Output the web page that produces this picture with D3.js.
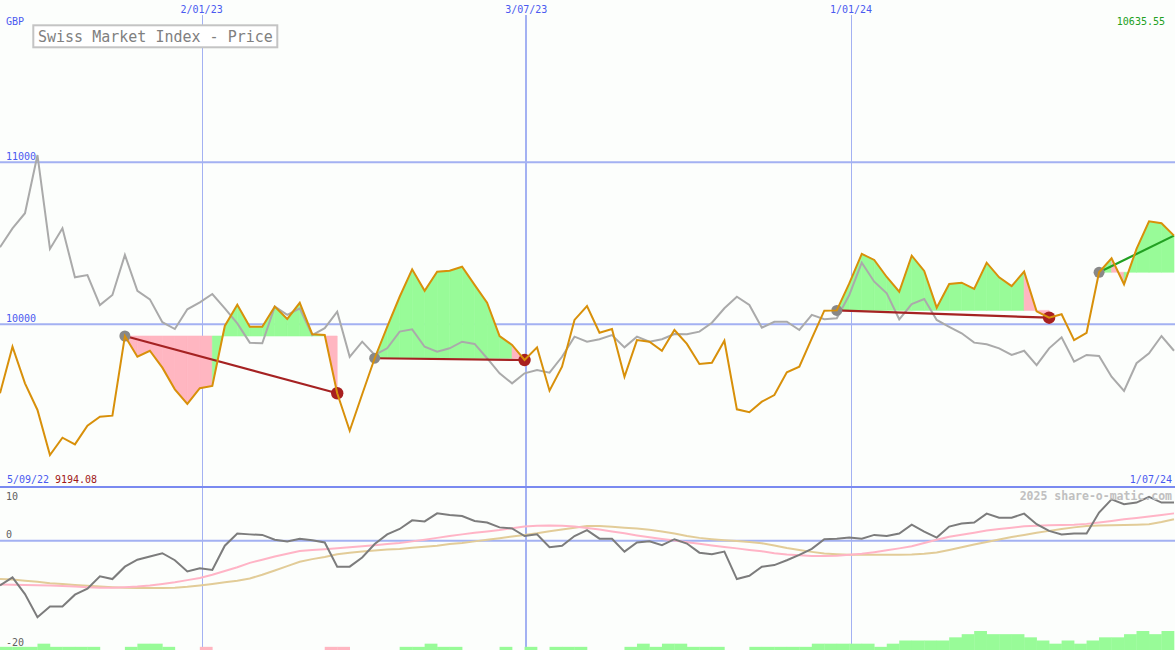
<!DOCTYPE html>
<html><head><meta charset="utf-8">
<script src="https://cdn.jsdelivr.net/npm/d3@7"></script>
<style>html,body{margin:0;padding:0;background:#fcfefc;} svg{display:block;}</style>
</head><body><svg id="c" width="1175" height="650"></svg>
<script>
// ---------- data ----------
const firstWeek = new Date(2022, 8, 11);
const lastWeek = new Date(2024, 5, 30);
const price = [
 9575, 9862, 9636, 9472, 9194.08, 9301, 9260, 9375, 9430, 9437,
 9928, 9800, 9837, 9733, 9599, 9509, 9606, 9620, 9990, 10121,
 9985, 9985, 10109, 10033, 10133, 9939, 9934, 9575, 9344, 9569,
 9791, 9985, 10170, 10339, 10207, 10325, 10331, 10355, 10243, 10133,
 9928, 9873, 9780, 9858, 9591, 9739, 10027, 10113, 9948, 9971,
 9677, 9903, 9893, 9837, 9965, 9879, 9755, 9763, 9899, 9476,
 9458, 9523, 9564, 9704, 9739, 9914, 10084, 10086, 10252, 10434,
 10397, 10292, 10201, 10423, 10329, 10103, 10249, 10257, 10218, 10380,
 10290, 10236, 10325, 10080, 10041, 10062, 9903, 9948, 10321, 10407,
 10247, 10465, 10635.55, 10623, 10547];
const compare = [
 10475, 10592, 10685, 11044, 10465, 10592, 10290, 10304, 10119, 10181,
 10428, 10207, 10154, 10013, 9971, 10093, 10136, 10187, 10099, 10006,
 9887, 9883, 10109, 10058, 10099, 9934, 9976, 10078, 9800, 9893,
 9811, 9852, 9955, 9969, 9862, 9831, 9852, 9893, 9879, 9791,
 9698, 9636, 9698, 9718, 9702, 9800, 9924, 9893, 9908, 9934,
 9858, 9924, 9893, 9908, 9940, 9939, 9955, 10010, 10099, 10170,
 10119, 9979, 10016, 10016, 9965, 10058, 10031, 10037, 10181, 10380,
 10263, 10191, 10031, 10125, 10156, 10027, 9985, 9945, 9887, 9877,
 9852, 9811, 9837, 9749, 9852, 9920, 9770, 9811, 9805, 9677,
 9589, 9760, 9821, 9928, 9837];
const osc = [
 -8.3, -6.8, -9.9, -14.2, -12.2, -12.2, -10, -8.9, -6.6, -7.1,
 -4.8, -3.5, -2.9, -2.3, -3.6, -5.7, -5.1, -5.4, -0.9, 1.35,
 1.2, 1.1, 0.2, -0.1, 0.4, 0.1, -0.3, -4.8, -4.8, -3.1,
 -0.6, 1.2, 2.2, 3.8, 3.6, 5.1, 4.8, 4.6, 3.7, 3.4,
 2.5, 2.3, 0.9, 1.2, -1.2, -0.9, 0.9, 2.0, 0.4, 0.4,
 -2.0, -0.3, -0.1, -0.8, 0.3, -0.5, -2.2, -2.5, -2.0, -7.1,
 -6.5, -4.8, -4.5, -3.6, -2.6, -1.5, 0.3, 0.4, 0.6, 0.4,
 1.1, 0.9, 1.35, 3.0, 1.7, 0.6, 2.65, 3.2, 3.4, 5.05,
 4.3, 4.3, 5.05, 3.1, 1.85, 1.2, 1.35, 1.35, 5.25, 7.7,
 6.8, 7.1, 8.15, 7.1, 7.1];
const oscFast = [
 -8.1, -8.15, -8.2, -8.25, -8.3, -8.4, -8.5, -8.6, -8.7, -8.7,
 -8.6, -8.5, -8.3, -8.0, -7.7, -7.3, -6.9, -6.3, -5.6, -4.9,
 -4.1, -3.5, -2.9, -2.4, -1.9, -1.7, -1.55, -1.4, -1.2, -1.0,
 -0.8, -0.6, -0.4, -0.1, 0.2, 0.55, 0.9, 1.2, 1.5, 1.75,
 2.0, 2.35, 2.65, 2.8, 2.85, 2.8, 2.65, 2.4, 2.1, 1.75,
 1.4, 1.0, 0.65, 0.35, 0.05, -0.25, -0.55, -0.85, -1.15, -1.4,
 -1.7, -1.95, -2.3, -2.55, -2.7, -2.8, -2.8, -2.75, -2.6, -2.4,
 -2.1, -1.75, -1.4, -1.0, -0.4, 0.2, 0.75, 1.15, 1.5, 1.9,
 2.2, 2.45, 2.7, 2.8, 2.9, 2.95, 3.0, 3.15, 3.4, 3.7,
 4.0, 4.25, 4.5, 4.8, 5.1];
const oscSlow = [
 -7.1, -7.2, -7.4, -7.6, -7.9, -8.0, -8.2, -8.35, -8.5, -8.6,
 -8.7, -8.75, -8.75, -8.75, -8.7, -8.55, -8.3, -8.0, -7.7, -7.4,
 -7.0, -6.3, -5.5, -4.7, -3.9, -3.4, -3.0, -2.5, -2.2, -2.0,
 -1.8, -1.6, -1.5, -1.3, -1.1, -0.9, -0.6, -0.4, -0.1, 0.2,
 0.5, 0.8, 1.1, 1.4, 1.8, 2.1, 2.45, 2.75, 2.75, 2.6,
 2.45, 2.3, 2.05, 1.75, 1.35, 0.9, 0.55, 0.3, 0.1, -0.05,
 -0.2, -0.45, -0.85, -1.35, -1.7, -2.05, -2.35, -2.5, -2.6, -2.6,
 -2.6, -2.6, -2.6, -2.55, -2.4, -2.15, -1.7, -1.2, -0.7, -0.2,
 0.25, 0.7, 1.1, 1.5, 1.85, 2.2, 2.5, 2.75, 2.85, 2.9,
 2.95, 3.0, 3.1, 3.5, 4.0];
const strengthBars = [
 1,1,1,2,1,1,1,1,0,0,
 1,2,2,1,0,0,-1,0,0,0,
 0,0,0,0,0,0,-1,-1,0,0,
 0,0,1,1,2,1,1,0,0,0,
 1,0,1,0,1,1,1,0,0,0,
 1,2,1,2,2,1,1,1,0,0,
 1,1,1,1,1,2,2,2,2,2,
 1,2,3,3,3,3,4,5,6,5,
 5,5,4,3,2,3,2,3,4,4,
 5,6,5,6];
const buyIdx = [10, 30, 67, 88];
const exitIdx = [27, 42, 84, 94];
const tradeOpen = [false, false, false, true];
const gridDates = [new Date(2023,0,2), new Date(2023,6,3), new Date(2024,0,1)];
const gridDateLabels = ["2/01/23", "3/07/23", "1/01/24"];
const gridDateWidths = [1, 2, 1];
const priceTicks = [10000, 11000];
const oscTicks = [10, 0, -20];
const titleText = "Swiss Market Index - Price";
const currency = "GBP";
const startLabel = "5/09/22", endLabel = "1/07/24";
const minLabel = "9194.08", maxLabel = "10635.55";

// ---------- scales ----------
const dates = d3.timeWeek.range(firstWeek, d3.timeDay.offset(lastWeek, 1));
const W = 1175, H = 650;
const x = d3.scaleTime().domain([firstWeek, lastWeek]).range([0, 1174]);
const yP = d3.scaleLinear().domain([9000, 12000]).range([486.5, 0]);
const yO = d3.scaleLinear().domain([-20, 10]).range([648.5, 487]);
const yB = d3.scaleLinear().domain([0, 6]).range([650, 631]);
const X = i => x(dates[i]);

const svg = d3.select("#c");
svg.append("rect").attr("width", W).attr("height", H).attr("fill", "#fcfefc");
const MONO = "'DejaVu Sans Mono', 'Liberation Mono', monospace";
const gridC = "#a3b1f2", blueTxt = "#4a5af0";

// gridlines
svg.selectAll(".hg").data(priceTicks).join("line")
  .attr("x1", 0).attr("x2", W).attr("y1", d => yP(d)).attr("y2", d => yP(d))
  .attr("stroke", gridC).attr("stroke-width", 2);
svg.append("line").attr("x1", 0).attr("x2", W).attr("y1", yO(0)).attr("y2", yO(0))
  .attr("stroke", gridC).attr("stroke-width", 2);
svg.selectAll(".vg").data(gridDates).join("line")
  .attr("x1", (d, i) => Math.round(x(d)) + (gridDateWidths[i] === 1 ? 0.5 : 0))
  .attr("x2", (d, i) => Math.round(x(d)) + (gridDateWidths[i] === 1 ? 0.5 : 0))
  .attr("y1", 15).attr("y2", H)
  .attr("stroke", gridC).attr("stroke-width", (d, i) => gridDateWidths[i]);
svg.append("line").attr("x1", 0).attr("x2", W).attr("y1", 487).attr("y2", 487)
  .attr("stroke", "#7a8af0").attr("stroke-width", 2);

// trade fills
const area = d3.area().x(d => X(d.i)).y0(d => yP(d.base)).y1(d => yP(price[d.i]));
const fillG = svg.append("g");
buyIdx.forEach((b, t) => {
  const base = price[b];
  for (let k = b; k < exitIdx[t]; k++) {
    const col = price[k + 1] >= base ? "#98fb98" : "#ffb6c1";
    fillG.append("path").attr("d", area([{i: k, base}, {i: k + 1, base}]))
      .attr("fill", col).attr("stroke", col).attr("stroke-width", 0.6);
  }
});

// comparison line
const idx = d3.range(price.length);
svg.append("path").datum(idx)
  .attr("d", d3.line().x(i => X(i)).y(i => yP(compare[i])))
  .attr("fill", "none").attr("stroke", "#aaaaaa").attr("stroke-width", 2);

// trade lines
buyIdx.forEach((b, t) => {
  const e = exitIdx[t];
  svg.append("line").attr("x1", X(b)).attr("y1", yP(price[b]))
    .attr("x2", X(e)).attr("y2", yP(price[e]))
    .attr("stroke", tradeOpen[t] ? "#22a022" : "#a52222").attr("stroke-width", 2.2);
});
// dots
svg.selectAll(".buy").data(buyIdx).join("circle")
  .attr("cx", i => X(i)).attr("cy", i => yP(price[i])).attr("r", 5.5).attr("fill", "#888888");
svg.selectAll(".sell").data(exitIdx.filter((e, t) => !tradeOpen[t])).join("circle")
  .attr("cx", i => X(i)).attr("cy", i => yP(price[i])).attr("r", 6.2).attr("fill", "#a82020");

// price line
svg.append("path").datum(idx)
  .attr("d", d3.line().x(i => X(i)).y(i => yP(price[i])))
  .attr("fill", "none").attr("stroke", "#d8900a").attr("stroke-width", 2).attr("stroke-linejoin", "miter");

// bottom bars
svg.selectAll(".bar").data(strengthBars.map((v, i) => ({v, i})).filter(d => d.v !== 0)).join("rect")
  .attr("x", d => X(d.i)).attr("width", d => X(d.i + 1) - X(d.i) + 0.3)
  .attr("y", d => yB(Math.abs(d.v))).attr("height", d => yB(0) - yB(Math.abs(d.v)))
  .attr("fill", d => d.v > 0 ? "#98fb98" : "#ffb6c1");

// oscillator lines
const oLine = arr => d3.line().x(i => X(i)).y(i => yO(arr[i]));
svg.append("path").datum(idx).attr("d", oLine(oscSlow)).attr("fill", "none").attr("stroke", "#e2cc98").attr("stroke-width", 2);
svg.append("path").datum(idx).attr("d", oLine(oscFast)).attr("fill", "none").attr("stroke", "#ffb4c6").attr("stroke-width", 2);
svg.append("path").datum(idx).attr("d", oLine(osc)).attr("fill", "none").attr("stroke", "#7c7c7c").attr("stroke-width", 2);

// ---------- text ----------
const txt = (s, xx, yy, opt = {}) => svg.append("text").text(s).attr("x", xx).attr("y", yy)
  .attr("font-family", MONO).attr("font-size", opt.size || 10)
  .attr("font-weight", opt.weight || "normal")
  .attr("fill", opt.fill || blueTxt).attr("text-anchor", opt.anchor || "start");

gridDates.forEach((d, i) => txt(gridDateLabels[i], x(d), 12.5, {anchor: "middle"}));
txt(currency, 6, 25);
txt(maxLabel, 1165, 25, {fill: "#22a022", anchor: "end"});
priceTicks.forEach(v => txt(d3.format("d")(v), 6, yP(v) - 2));
txt(startLabel, 7, 483);
txt(minLabel, 55, 483, {fill: "#a01818"});
txt(endLabel, 1172, 483, {anchor: "end"});
oscTicks.forEach(v => txt(String(v), 6, v === 10 ? yO(v) + 12.5 : yO(v) - 3, {fill: "#606060"}));
txt("2025 share-o-matic.com", 1172, 500, {fill: "#c0c0c0", anchor: "end", size: 11.5, weight: "bold"});

// title box
svg.append("rect").attr("x", 33.3).attr("y", 25.3).attr("width", 244).attr("height", 22)
  .attr("fill", "#ffffff").attr("stroke", "#c4c4c4").attr("stroke-width", 2);
txt(titleText, 38, 41.5, {fill: "#808080", size: 15});
</script>
</body></html>
